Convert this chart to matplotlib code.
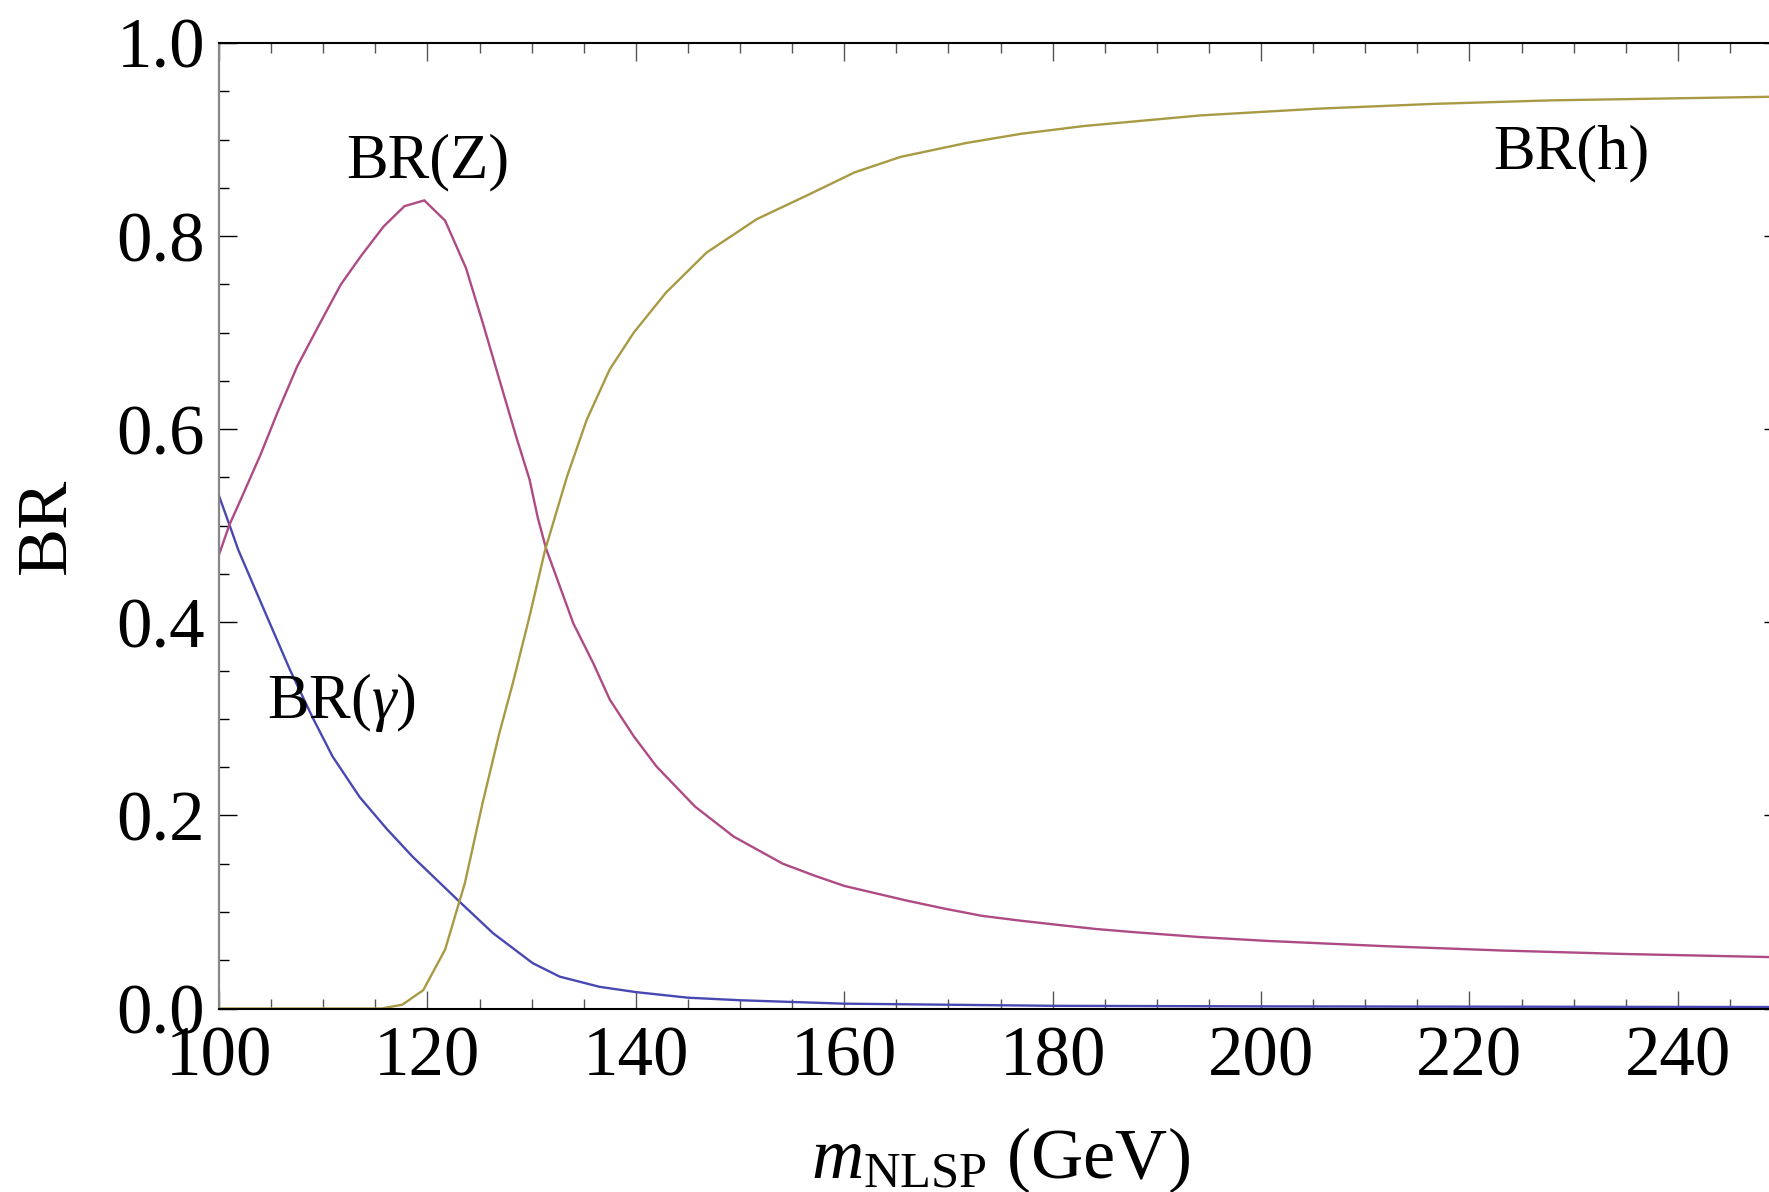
import matplotlib
matplotlib.use("Agg")
import matplotlib.pyplot as plt
from matplotlib.ticker import MultipleLocator, FormatStrFormatter

# ---- data ----
z_mass = [100, 101, 102, 104, 105.6, 107.5, 109.8, 111.7, 113.6, 115.8, 117.8, 119.7,
          121.7, 123.7, 125.4, 127.0, 128.5, 129.8, 130.6, 131.4, 134.0, 135.9, 137.5,
          139.8, 142.0, 145.7, 149.4, 154.1, 157.1, 160.0, 165.9, 169.6, 173.2, 176.9,
          180.6, 184.2, 187.9, 194.1, 200.6, 212.0, 223.3, 234.7, 250]
br_z = [0.470, 0.501, 0.525, 0.574, 0.617, 0.665, 0.712, 0.750, 0.779, 0.810, 0.831, 0.837,
        0.816, 0.767, 0.707, 0.648, 0.593, 0.548, 0.508, 0.476, 0.399, 0.358, 0.320,
        0.282, 0.2505, 0.209, 0.178, 0.150, 0.1378, 0.127, 0.112, 0.1035, 0.096, 0.091,
        0.0865, 0.0823, 0.079, 0.074, 0.070, 0.0645, 0.060, 0.0565, 0.053]

h_mass = [100, 115.6, 117.6, 119.6, 121.7, 123.6, 125.3, 126.9, 128.2, 129.8, 131.3, 133.4,
          135.3, 137.5, 139.8, 142.9, 146.8, 151.6, 156.4, 161.0, 165.4, 171.7, 177.0,
          183.0, 194.2, 205.5, 216.7, 227.9, 250]
br_h = [0.0, 0.0, 0.004, 0.019, 0.061, 0.130, 0.213, 0.285, 0.337, 0.406, 0.475, 0.551,
        0.610, 0.662, 0.700, 0.7415, 0.783, 0.8175, 0.842, 0.866, 0.882, 0.8964, 0.906,
        0.914, 0.925, 0.932, 0.937, 0.9406, 0.9445]

g_mass = [100, 101.0, 101.85, 104, 106.8, 109.0, 110.9, 113.5, 116.1, 118.6, 122.9, 126.3,
          130.1, 132.7, 136.5, 140.0, 145.0, 150.1, 160, 180, 200, 250]
br_gamma = [0.531, 0.501, 0.475, 0.421, 0.351, 0.301, 0.261, 0.219, 0.186, 0.157, 0.1125,
            0.078, 0.047, 0.033, 0.0225, 0.017, 0.0112, 0.0085, 0.005, 0.0028, 0.0022, 0.0015]

labels = ["BR($\\gamma$)", "BR(Z)", "BR(h)"]
label_pos = [(104.6, 0.301), (112.2, 0.861), (222.3, 0.870)]

x_label = "$m_{\\rm NLSP}$ (GeV)"
y_label = "BR"

# ---- style ----
plt.rcParams["font.family"] = ["Liberation Serif", "DejaVu Serif"]
plt.rcParams["mathtext.fontset"] = "custom"
plt.rcParams["mathtext.rm"] = "Liberation Serif"
plt.rcParams["mathtext.it"] = "Liberation Serif:italic"
plt.rcParams["mathtext.bf"] = "Liberation Serif:bold"

c_gamma = "#4848b2"
c_z = "#ae4a84"
c_h = "#a89a44"

W, H = 1769, 1192
fig = plt.figure(figsize=(W / 100, H / 100), dpi=100)
L, R, T, B = 219, 1782, 43, 1008.5
ax = fig.add_axes([L / W, (H - B) / H, (R - L) / W, (B - T) / H])

ax.plot(g_mass, br_gamma, color=c_gamma, lw=1.7, solid_joinstyle="round")
ax.plot(z_mass, br_z, color=c_z, lw=1.7, solid_joinstyle="miter")
ax.plot(h_mass, br_h, color=c_h, lw=1.7, solid_joinstyle="round")

ax.set_xlim(100, 250)
ax.set_ylim(0, 1.0)

ax.xaxis.set_major_locator(MultipleLocator(20))
ax.xaxis.set_minor_locator(MultipleLocator(5))
ax.yaxis.set_major_locator(MultipleLocator(0.2))
ax.yaxis.set_minor_locator(MultipleLocator(0.05))
ax.yaxis.set_major_formatter(FormatStrFormatter("%.1f"))
ax.xaxis.set_major_formatter(FormatStrFormatter("%d"))

ax.tick_params(axis="both", which="both", direction="in", top=True, right=True)
ax.tick_params(axis="x", which="major", length=13, width=1.0, color="#555555",
               labelsize=51, pad=12)
ax.tick_params(axis="x", which="minor", length=7.5, width=1.0, color="#555555")
ax.tick_params(axis="y", which="major", length=13, width=1.0, color="black",
               labelsize=51, pad=10)
ax.tick_params(axis="y", which="minor", length=7.5, width=1.0, color="black")

ax.spines["left"].set_color("#888888")
ax.spines["left"].set_linewidth(1.6)
for s in ["bottom", "top", "right"]:
    ax.spines[s].set_color("black")
    ax.spines[s].set_linewidth(1.5)

for txt, (xx, yy) in zip(labels, label_pos):
    ax.text(xx, yy, txt, fontsize=45, ha="left", va="baseline")

ax.set_xlabel(x_label, fontsize=52, va="baseline")
ax.xaxis.set_label_coords(0.5, (B - 1178) / (B - T))
ax.set_ylabel(y_label, fontsize=52, rotation=90, va="center", ha="center")
ax.yaxis.set_label_coords((47 - L) / (R - L), 0.5)

fig.savefig("out.png", dpi=100)
